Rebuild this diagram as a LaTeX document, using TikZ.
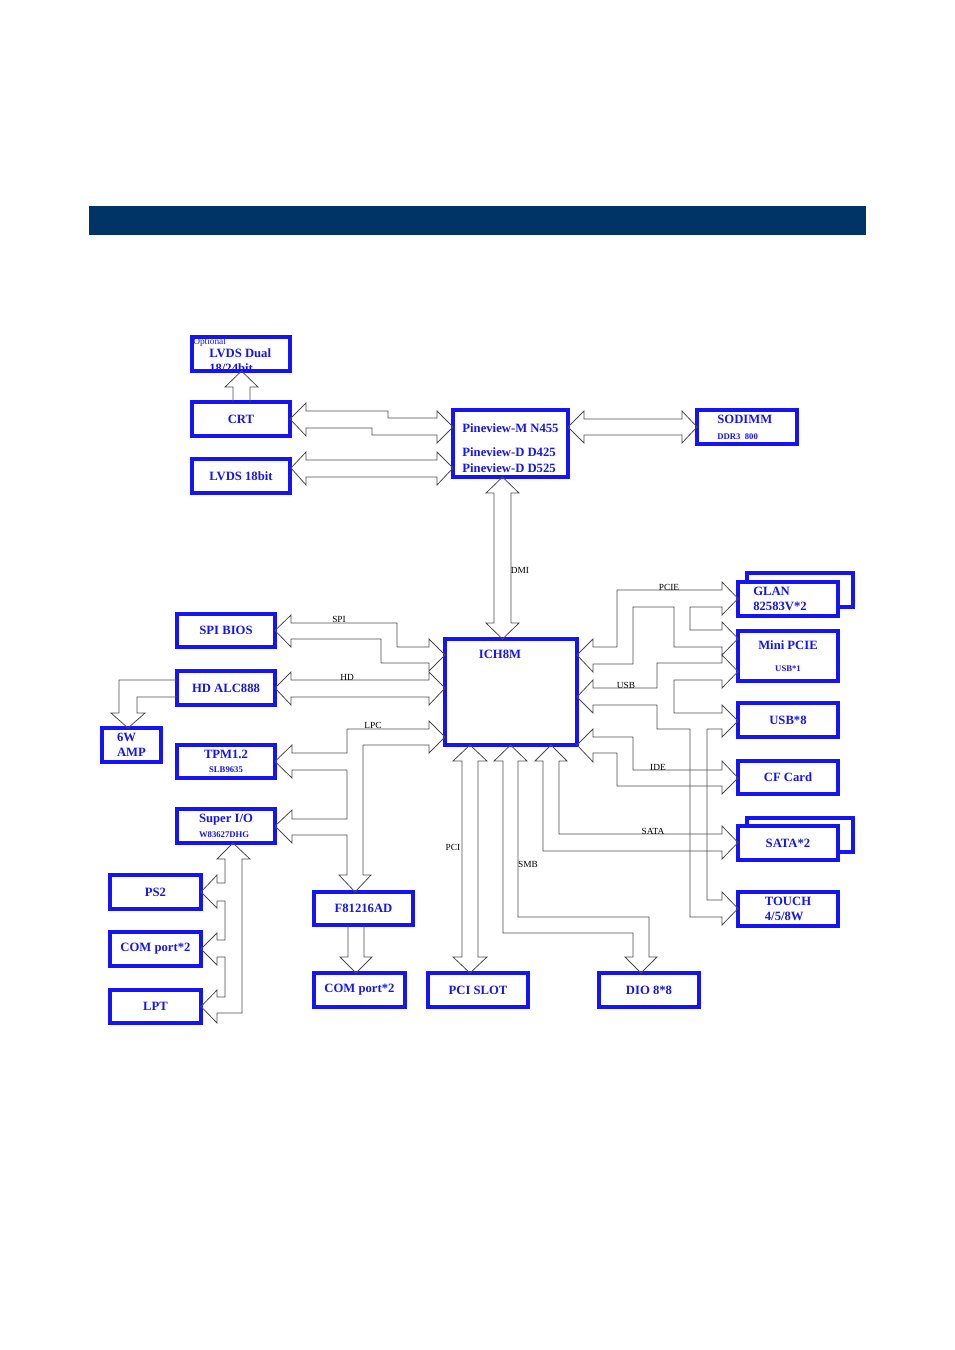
\documentclass[tikz,border=0pt]{standalone}
\usepackage{fontspec}
\setmainfont{Liberation Serif}
\definecolor{barblue}{RGB}{0,51,102}
\definecolor{boxblue}{RGB}{20,20,245}
\newcommand{\subtxt}{\fontsize{6.5}{8}\selectfont}

\begin{document}
\begin{tikzpicture}[x=0.75pt, y=-0.75pt,
  btxt/.style={text=boxblue, inner sep=0pt, font=\bfseries\fontsize{9.5}{11}\selectfont},
  blk/.style={btxt, draw=boxblue, line width=2.6pt, outer sep=0pt},
  wh/.style 2 args={minimum width={#1*0.75pt}, minimum height={#2*0.75pt}},
  bus/.style={draw=black!70, line width=0.6pt},
  buslbl/.style={font=\fontsize{7}{7}\selectfont, inner sep=0pt}]
  \useasboundingbox (0,0) rectangle (955,1350);
  \fill[barblue] (89,206) rectangle (866,235);

  \node[btxt, anchor=west] (lvdsdt1) at (209,353) {LVDS Dual};
  \node[btxt, anchor=west] (lvdsdt2) at (209,368) {18/24bit};
  \node[blk, wh={98}{34}] (lvdsd) at (241,354) {};
  \node[btxt, anchor=west, font=\fontsize{7}{7}\selectfont] (opt) at (193,342) {Optional};
  \node[blk, wh={98}{34}] (crt) at (241,419) {CRT};
  \node[blk, wh={98}{34}] (lvds) at (241,476) {LVDS 18bit};
  \node[blk, wh={115}{67}, align=left, font=\bfseries\fontsize{9.5}{12}\selectfont] (cpu) at (510.5,443.5)
    {\rule{0pt}{13pt}Pineview-M N455\\[6pt]Pineview-D D425\\Pineview-D D525};
  \node[blk, wh={100}{34}, align=left, font=\bfseries\fontsize{9.5}{12}\selectfont] (sodimm) at (747,427)
    {SODIMM\\{\subtxt DDR3~~800}\hspace*{14pt}};

  \node[blk, wh={98}{33}] (spi) at (226,630.5) {SPI BIOS};
  \node[blk, wh={98}{34}] (hda) at (226,688) {HD ALC888};
  \node[blk, wh={59}{34}, align=left] (amp) at (131.5,745) {6W\\AMP};
  \node[blk, wh={98}{33}, align=center] (tpm) at (226,761.5) {TPM1.2\\{\subtxt SLB9635}};
  \node[blk, wh={98}{34}, align=left] (sio) at (226,826) {Super I/O\\{\subtxt W83627DHG}};
  \node[blk, wh={91}{34}] (ps2) at (155.5,892) {PS2};
  \node[blk, wh={91}{34}] (comA) at (155.5,949) {COM port*2};
  \node[blk, wh={91}{33}] (lpt) at (155.5,1006.5) {LPT};
  \node[blk, wh={99}{33}] (fintek) at (363.5,908.5) {F81216AD};
  \node[blk, wh={91}{34}] (comB) at (359.5,990) {COM port*2};
  \node[blk, wh={100}{34}] (pcislot) at (478,990) {PCI SLOT};
  \node[blk, wh={100}{34}] (dio) at (649,990) {DIO 8*8};

  \node[blk, wh={132}{106}] (ich) at (511,692) {};
  \node[btxt] (ichtxt) at (500,654) {ICH8M};

  \node[blk, wh={106}{34}] (glanbk) at (800,590) {};
  \node[blk, fill=white, wh={100}{34}, align=left] (glan) at (788,599) {GLAN\\82583V*2\hspace*{12pt}};
  \node[blk, wh={100}{50}, align=center] (mpcie) at (788,656) {Mini PCIE\\[5pt]{\subtxt USB*1}};
  \node[blk, wh={100}{34}] (usbe) at (788,720) {USB*8};
  \node[blk, wh={100}{33}] (cf) at (788,777.5) {CF Card};
  \node[blk, wh={106}{34}] (satabk) at (800,835) {};
  \node[blk, fill=white, wh={100}{34}] (sata) at (788,843) {SATA*2};
  \node[blk, wh={100}{34}, align=left] (touch) at (788,909) {TOUCH\\4/5/8W};

  \draw[bus] (233,402) -- (233,387) -- (225,387) -- (lvdsd.south -| 241.5,0) -- (258,387) -- (250,387) -- (250,402);
  \draw[bus] (crt.east) -- (306,403) -- (306,411) -- (388,411) -- (388,418) -- (437,418) -- (437,411)
    -- (453,427) -- (437,443) -- (437,435) -- (372,435) -- (372,428) -- (306,428) -- (306,436) -- cycle;
  \draw[bus] (291,468) -- (306,452) -- (306,460) -- (437,460) -- (437,452) -- (453,468) -- (437,485)
    -- (437,477) -- (306,477) -- (306,485) -- cycle;
  \draw[bus] (cpu.east |- sodimm.west) -- (584,411) -- (584,419) -- (682,419) -- (682,411) -- (sodimm.west)
    -- (682,443) -- (682,435) -- (584,435) -- (584,443) -- cycle;
  \draw[bus] (502.5,477) -- (519,493) -- (511,493) -- (511,623) -- (519,623) -- (502.5,639) -- (486,623)
    -- (494,623) -- (494,493) -- (486,493) -- cycle;

  \draw[bus] (spi.east) -- (291,615) -- (291,623) -- (397,623) -- (397,647) -- (429,647) -- (429,639)
    -- (445,655) -- (429,671) -- (429,663) -- (381,663) -- (381,639) -- (291,639) -- (291,647) -- cycle;
  \draw[bus] (hda.east) -- (291,672) -- (291,680) -- (429,680) -- (429,672) -- (445,688) -- (429,705)
    -- (429,697) -- (291,697) -- (291,705) -- cycle;
  \draw[bus] (177,680) -- (119,680) -- (119,713) -- (111,713) -- (128,728) -- (145,713) -- (137,713)
    -- (137,697) -- (177,697);
  \draw[bus] (445,737) -- (429,721) -- (429,729) -- (347,729) -- (347,753) -- (292,753) -- (292,745)
    -- (tpm.east) -- (292,778) -- (292,770) -- (347,770) -- (347,819) -- (292,819) -- (292,810)
    -- (sio.east) -- (292,843) -- (292,835) -- (347,835) -- (347,875) -- (339,875) -- (355,892)
    -- (371,875) -- (363,875) -- (363,745) -- (429,745) -- (429,753) -- cycle;
  \draw[bus] (348,925) -- (348,957) -- (340,957) -- (356,973) -- (372,957) -- (364,957) -- (364,925);
  \draw[bus] (233,843) -- (250,859) -- (242,859) -- (242,1013) -- (217,1013) -- (217,1023) -- (lpt.east)
    -- (217,990) -- (217,997) -- (225,997) -- (225,957) -- (217,957) -- (217,965) -- (comA.east)
    -- (217,933) -- (217,940) -- (225,940) -- (225,901) -- (217,901) -- (217,908) -- (ps2.east)
    -- (217,875) -- (217,883) -- (225,883) -- (225,859) -- (217,859) -- cycle;

  \draw[bus] (470,745) -- (487,761) -- (478,761) -- (478,957) -- (487,957) -- (470,973) -- (453,957)
    -- (462,957) -- (462,761) -- (453,761) -- cycle;
  \draw[bus] (510.5,745) -- (527,761) -- (518,761) -- (518,917) -- (649,917) -- (649,957) -- (657,957)
    -- (641,973) -- (625,957) -- (633,957) -- (633,933) -- (503,933) -- (503,761) -- (494,761) -- cycle;
  \draw[bus] (551,745) -- (567,761) -- (559,761) -- (559,834) -- (722,834) -- (722,826) -- (738,842.5)
    -- (722,859) -- (722,851) -- (543,851) -- (543,761) -- (535,761) -- cycle;

  \draw[bus] (577,655) -- (593,639) -- (593,647) -- (617,647) -- (617,590) -- (722,590) -- (722,582)
    -- (738,598.5) -- (722,615) -- (722,607) -- (690,607) -- (690,630) -- (722,630) -- (722,622)
    -- (738,638.5) -- (722,655) -- (722,647) -- (674,647) -- (674,607) -- (633,607) -- (633,664)
    -- (593,664) -- (593,672) -- cycle;
  \draw[bus] (577,697) -- (593,680) -- (593,688) -- (657,688) -- (657,663) -- (722,663) -- (722,655)
    -- (738,671.5) -- (722,688) -- (722,680) -- (674,680) -- (674,713) -- (722,713) -- (722,705)
    -- (738,721) -- (722,737) -- (722,729) -- (707,729) -- (707,900) -- (722,900) -- (722,892)
    -- (738,908.5) -- (722,925) -- (722,917) -- (690,917) -- (690,729) -- (657,729) -- (657,705)
    -- (593,705) -- (593,713) -- cycle;
  \draw[bus] (577,745) -- (593,729) -- (593,737) -- (633,737) -- (633,770) -- (722,770) -- (722,761)
    -- (738,778) -- (722,794) -- (722,786) -- (617,786) -- (617,753) -- (593,753) -- (593,762) -- cycle;

  \node[buslbl] (lspi) at (339,619) {SPI};
  \node[buslbl] (lhd) at (347,677) {HD};
  \node[buslbl] (llpc) at (373,725) {LPC};
  \node[buslbl] (ldmi) at (520,570) {DMI};
  \node[buslbl] (lpci) at (453,847) {PCI};
  \node[buslbl] (lsmb) at (528,864) {SMB};
  \node[buslbl] (lsata) at (653,831) {SATA};
  \node[buslbl] (lide) at (658,767) {IDE};
  \node[buslbl] (lusb) at (626,685) {USB};
  \node[buslbl] (lpcie) at (669,587) {PCIE};
\end{tikzpicture}
\end{document}
